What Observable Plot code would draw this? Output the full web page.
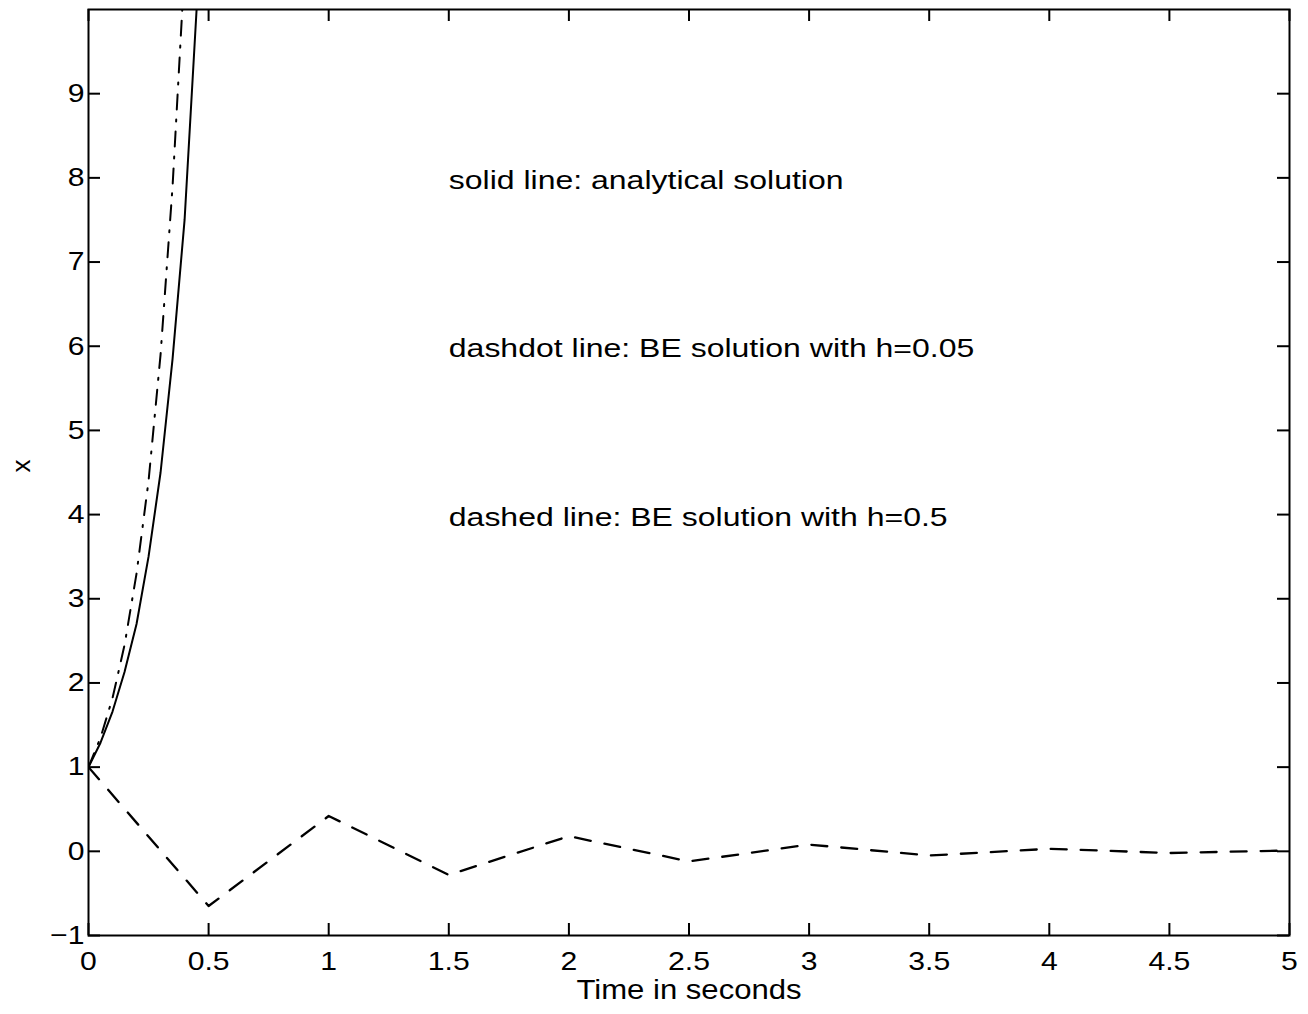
<!DOCTYPE html>
<html><head><meta charset="utf-8">
<script src="https://cdn.jsdelivr.net/npm/d3@7"></script>
<script src="https://cdn.jsdelivr.net/npm/@observablehq/plot@0.6"></script>
<style>body{margin:0;background:#fff} svg{display:block}</style>
</head><body><div id="chart"></div>
<script>
// Analytical solution (solid)
const timeAnalytical = [0, 0.05, 0.1, 0.15, 0.2, 0.25, 0.3, 0.35, 0.4, 0.45, 0.5];
const analytical     = [1, 1.29, 1.66, 2.13, 2.7, 3.5, 4.5, 5.85, 7.5, 10.0, 12.9];
// BE solution, h = 0.05 (dashdot)
const timeBE005 = [0, 0.05, 0.1, 0.15, 0.2, 0.25, 0.3, 0.35, 0.4, 0.45];
const be005     = [1, 1.35, 1.82, 2.45, 3.3, 4.4, 5.9, 7.9, 10.5, 14];
// BE solution, h = 0.5 (dashed)
const timeBE05 = [0, 0.5, 1, 1.5, 2, 2.5, 3, 3.5, 4, 4.5, 5];
const be05     = [1, -0.65, 0.42, -0.28, 0.18, -0.12, 0.08, -0.05, 0.03, -0.02, 0.01];

const xTicks = [0, 0.5, 1, 1.5, 2, 2.5, 3, 3.5, 4, 4.5, 5];
const yTicks = [-1, 0, 1, 2, 3, 4, 5, 6, 7, 8, 9];
const xLabel = "Time in seconds";
const yLabel = "x";
const notes  = ["solid line: analytical solution", "dashdot line: BE solution with h=0.05", "dashed line: BE solution with h=0.5"];
const noteX  = [1.5, 1.5, 1.5];
const noteY  = [8, 6, 4];

const W = 1308, H = 1014;
const mL = 88, mR = 19, mT = 9, mB = 79;
const frameW = W - mL - mR, frameH = H - mT - mB;
const tickLen = 12;

const solid = timeAnalytical.map((t, i) => ({t, v: analytical[i]}));
const dashdot = timeBE005.map((t, i) => ({t, v: be005[i]}));
const dashed = timeBE05.map((t, i) => ({t, v: be05[i]}));
const noteData = notes.map((s, i) => ({s, x: noteX[i], y: noteY[i]}));
const fmt = d => d < 0 ? "\u2212" + Math.abs(d) : String(d);

const chart = Plot.plot({
  width: W, height: H,
  marginLeft: mL, marginRight: mR, marginTop: mT, marginBottom: mB,
  style: {fontFamily: "'Liberation Sans', Arial, Helvetica, sans-serif", fontSize: "26px", color: "black", background: "white"},
  x: {domain: [0, 5]},
  y: {domain: [-1, 10]},
  marks: [
    Plot.line(solid, {x: "t", y: "v", stroke: "black", strokeWidth: 2, clip: true}),
    Plot.line(dashdot, {x: "t", y: "v", stroke: "black", strokeWidth: 2, strokeDasharray: "15,10,2,10", clip: true}),
    Plot.line(dashed, {x: "t", y: "v", stroke: "black", strokeWidth: 2.3, strokeDasharray: "16,14", clip: true}),
    Plot.tickX(xTicks, {x: d => d, insetTop: frameH - tickLen, stroke: "black", strokeWidth: 2}),
    Plot.tickX(xTicks, {x: d => d, insetBottom: frameH - tickLen, stroke: "black", strokeWidth: 2}),
    Plot.tickY(yTicks, {y: d => d, insetRight: frameW - tickLen, stroke: "black", strokeWidth: 2}),
    Plot.tickY(yTicks, {y: d => d, insetLeft: frameW - tickLen, stroke: "black", strokeWidth: 2}),
    Plot.axisX(xTicks, {tickSize: 0, tickPadding: 16, tickFormat: fmt, label: null, fontSize: 26}),
    Plot.axisY(yTicks, {tickSize: 0, tickPadding: 4, tickFormat: fmt, label: null, fontSize: 26}),
    Plot.text([xLabel], {frameAnchor: "bottom", dy: 44, lineAnchor: "top", fontSize: 28}),
    Plot.text([yLabel], {frameAnchor: "left", dx: -67, rotate: -90, fontSize: 26}),
    Plot.text(noteData, {x: "x", y: "y", text: "s", textAnchor: "start", fontSize: 25, dy: 3}),
    Plot.frame({stroke: "black", strokeWidth: 2})
  ]
});
document.getElementById("chart").appendChild(chart);

// widen glyphs horizontally to mimic the wide Helvetica of the original
chart.querySelectorAll("text").forEach(el => {
  const txt = el.textContent;
  let sx = 1.16;
  if (txt.includes("line:")) sx = 1.28;
  else if (txt === xLabel) sx = 1.11;
  else if (txt === yLabel) return;
  const tr = el.getAttribute("transform");
  if (tr) el.setAttribute("transform", tr + ` scale(${sx},1)`);
  else {
    const x = +(el.getAttribute("x") || 0);
    el.setAttribute("transform", `translate(${x},0) scale(${sx},1) translate(${-x},0)`);
  }
});
</script></body></html>
